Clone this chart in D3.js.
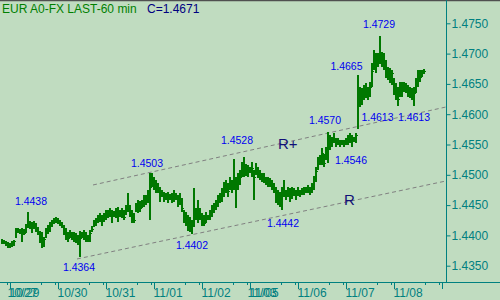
<!DOCTYPE html>
<html>
<head>
<meta charset="utf-8">
<script src="https://d3js.org/d3.v7.min.js"></script>
<style>
  body { margin: 0; background: #c0dcc0; }
  svg { display: block; font-family: Arial, "Liberation Sans", sans-serif; }
</style>
</head>
<body>
<div id="viz"></div>
<script>
"use strict";

const w = 500;
const h = 300;

// hourly bars, prices in pips above 1.4000
const highs = [394,393,391,389,388,390,393,412,412,411,413,410,418,438,424,422,423,420,414,408,
  405,398,412,417,422,425,428,430,428,425,422,417,412,406,409,405,406,404,400,408,
  405,409,406,400,409,416,425,428,433,437,433,437,442,442,445,442,440,445,447,442,
  445,442,450,470,450,442,437,453,458,456,458,466,466,475,503,503,497,491,486,480,
  475,472,470,472,468,470,475,470,466,470,461,442,438,433,430,425,478,446,458,446,
  437,433,438,433,442,450,453,458,466,470,478,488,491,486,496,491,526,496,503,508,
  521,529,518,516,513,521,508,519,513,508,503,503,496,496,494,491,486,480,475,472,
  480,491,475,480,478,480,478,475,480,475,478,480,480,483,480,486,498,513,529,532,
  545,535,546,570,565,562,569,560,560,557,557,557,560,565,569,565,562,569,665,645,
  643,648,651,645,653,684,706,701,701,729,703,701,689,678,676,673,660,651,645,653,
  653,653,651,648,645,643,645,660,673,673,673,675];
const lows = [386,385,383,379,380,381,383,395,404,403,389,400,404,412,410,404,410,405,400,387,
  380,381,395,403,406,414,418,420,418,416,412,400,392,389,396,392,389,387,384,364,
  395,392,389,389,389,405,414,416,420,422,416,422,425,428,430,421,430,428,422,430,
  428,425,433,438,430,421,421,438,437,438,445,447,450,453,425,480,475,470,470,455,
  463,455,458,453,458,453,455,458,447,450,438,420,416,408,405,402,414,425,420,425,
  416,416,421,425,425,430,437,442,447,453,455,463,470,463,475,470,475,445,475,483,
  496,496,498,496,503,496,458,500,495,491,488,486,483,480,480,475,470,453,450,447,
  442,463,458,463,455,460,465,458,465,463,466,466,470,470,466,470,475,488,508,516,
  516,513,524,520,541,546,552,546,549,546,549,546,549,549,552,546,554,552,575,612,
  615,623,626,623,628,645,673,668,678,683,678,673,660,656,651,648,632,623,613,628,
  628,637,635,628,626,623,613,635,645,653,661,667];
const closes = [390,388,386,382,385,384,391,408,407,409,406,404,414,420,416,418,414,410,404,392,
  386,394,408,412,418,420,424,426,422,420,415,406,398,395,402,398,394,392,390,396,
  400,398,393,394,404,410,420,424,428,432,426,430,434,434,436,432,436,438,432,437,
  434,430,445,448,440,428,426,448,454,446,452,460,462,470,480,492,486,482,478,472,
  468,462,466,460,462,464,466,463,455,458,446,428,424,418,414,418,428,438,442,432,
  424,420,430,428,436,440,446,452,458,462,470,478,484,474,488,480,486,480,492,496,
  508,514,506,504,508,512,496,510,502,496,494,490,488,486,484,480,476,466,458,456,
  468,474,466,470,466,472,470,466,472,468,472,474,476,478,476,480,492,506,520,524,
  536,520,540,548,556,554,560,552,556,552,554,552,556,556,562,560,558,566,620,630,
  625,638,640,630,645,672,695,688,692,700,690,685,672,665,660,668,642,632,625,640,
  645,648,640,636,632,630,635,655,665,662,668,671];

const dayLabels = ["10/29", "10/30", "10/31", "11/01", "11/02", "11/05", "11/06", "11/07", "11/08", ""];
const dayBars = [4, 28, 52, 76, 100, 124, 148, 172, 196, 220];
const weekendLabels = ["10/27", "11/03"];
const weekendBars = [3, 123];

const yTicks = [350, 400, 450, 500, 550, 600, 650, 700, 750];

// swing high / low notes: text, bar, price level of baseline (pips)
const noteText = ["1.4438", "1.4364", "1.4503", "1.4402", "1.4528", "1.4442",
  "1.4570", "1.4546", "1.4665", "1.4729", "1.4613", "1.4613"];
const noteBar = [15, 39, 73, 95.5, 118, 141, 162, 175, 172.75, 189, 188.25, 206.5];
const notePip = [450, 341, 513, 377.5, 551, 414, 584, 518, 673, 742, 589, 589];

// trend lines R+ and R: [bar, pips]
const trendName = ["R+", "R"];
const trendFrom = [[46, 483.2], [38, 361.1]];
const trendTo = [[222.5, 611.9], [222.5, 489.8]];
const trendLabelAt = [[138.5, 542.6], [171.5, 450]];

const svg = d3.select("#viz")
  .append("svg")
  .attr("width", w)
  .attr("height", h)

svg.append("rect")
  .attr("width", w)
  .attr("height", h)
  .attr("fill", "#c0dcc0")

const x = d3.scaleLinear().domain([0, 223]).range([1, 447]);
const y = d3.scaleLinear().domain([350, 750]).range([265.7, 23.3]);

// top border
svg.append("line")
  .attr("x1", 0).attr("x2", w)
  .attr("y1", 0.5).attr("y2", 0.5)
  .attr("stroke", "#505050")
  .attr("stroke-width", 1.5)

// trend lines
svg.append("g")
  .selectAll("line")
  .data(trendFrom)
  .join("line")
  .attr("x1", d => x(d[0]))
  .attr("y1", d => y(d[1]))
  .attr("x2", (d, i) => x(trendTo[i][0]))
  .attr("y2", (d, i) => y(trendTo[i][1]))
  .attr("stroke", "#808080")
  .attr("stroke-width", 1)
  .attr("stroke-dasharray", "4,3")

svg.append("g")
  .selectAll("text")
  .data(trendName)
  .join("text")
  .attr("x", (d, i) => x(trendLabelAt[i][0]))
  .attr("y", (d, i) => y(trendLabelAt[i][1]))
  .attr("fill", "#101078")
  .attr("font-size", "15px")
  .text(d => d)

// HLC bars
const bars = svg.append("g")
  .attr("stroke", "#007800")
  .attr("fill", "none")
  .attr("shape-rendering", "crispEdges")

bars.selectAll("path")
  .data(highs)
  .join("path")
  .attr("stroke-width", 1.6)
  .attr("d", (d, i) => {
    const xp = Math.round(x(i));
    const yc = Math.round(y(closes[i])) + 0.5;
    return `M${xp + 1},${y(d)}V${y(lows[i])}M${xp + 1},${yc}H${xp + 2.5}`;
  })

// swing labels
svg.append("g")
  .selectAll("text")
  .data(noteText)
  .join("text")
  .attr("x", (d, i) => x(noteBar[i]))
  .attr("y", (d, i) => y(notePip[i]))
  .attr("text-anchor", "middle")
  .attr("fill", "#0000f0")
  .attr("font-size", "10.5px")
  .text(d => d)

// right price axis
const axisColor = "#008080";
svg.append("line")
  .attr("x1", 446.5).attr("x2", 446.5)
  .attr("y1", 0).attr("y2", 283)
  .attr("stroke", axisColor)

const yAxis = svg.append("g")
  .attr("transform", "translate(446.5,0)")
  .call(d3.axisRight(y)
    .tickValues(yTicks)
    .tickSize(4)
    .tickPadding(1)
    .tickFormat(d => (1.4 + d / 10000).toFixed(4)))
yAxis.select(".domain").remove()
yAxis.selectAll("line").attr("stroke", axisColor)
yAxis.selectAll("text")
  .attr("fill", axisColor)
  .attr("font-size", "12px")
  .attr("font-family", "Arial, 'Liberation Sans', sans-serif")

// time axis
svg.append("line")
  .attr("x1", 0).attr("x2", w)
  .attr("y1", 282.5).attr("y2", 282.5)
  .attr("stroke", axisColor)

const ticks = svg.append("g")
  .attr("stroke", axisColor)
  .attr("shape-rendering", "crispEdges")

dayBars.forEach(b => {
  const xd = Math.round(x(b));
  ticks.append("line").attr("x1", xd + 1.5).attr("x2", xd + 1.5).attr("y1", 282).attr("y2", 289)
  ticks.append("line").attr("x1", xd - 1.5).attr("x2", xd - 1.5).attr("y1", 282).attr("y2", 285)
  if (b + 16 < 223) {
    const xm = Math.round(x(b + 16));
    ticks.append("line").attr("x1", xm + 0.5).attr("x2", xm + 0.5).attr("y1", 282).attr("y2", 285)
  }
})

svg.append("g")
  .selectAll("text")
  .data(dayLabels.concat(weekendLabels))
  .join("text")
  .attr("x", (d, i) => {
    const b = i < dayBars.length ? dayBars[i] : weekendBars[i - dayBars.length];
    return x(b) + 0.5;
  })
  .attr("y", 297)
  .attr("fill", axisColor)
  .attr("font-size", "12px")
  .text(d => d)

// title
const title = svg.append("text")
  .attr("x", 2)
  .attr("y", 13)
  .attr("font-size", "12px")
title.append("tspan").attr("fill", "#008000").text("EUR A0-FX LAST-60 min")
title.append("tspan").attr("fill", "#000080").attr("x", 147).text("C=1.4671")
</script>
</body>
</html>
